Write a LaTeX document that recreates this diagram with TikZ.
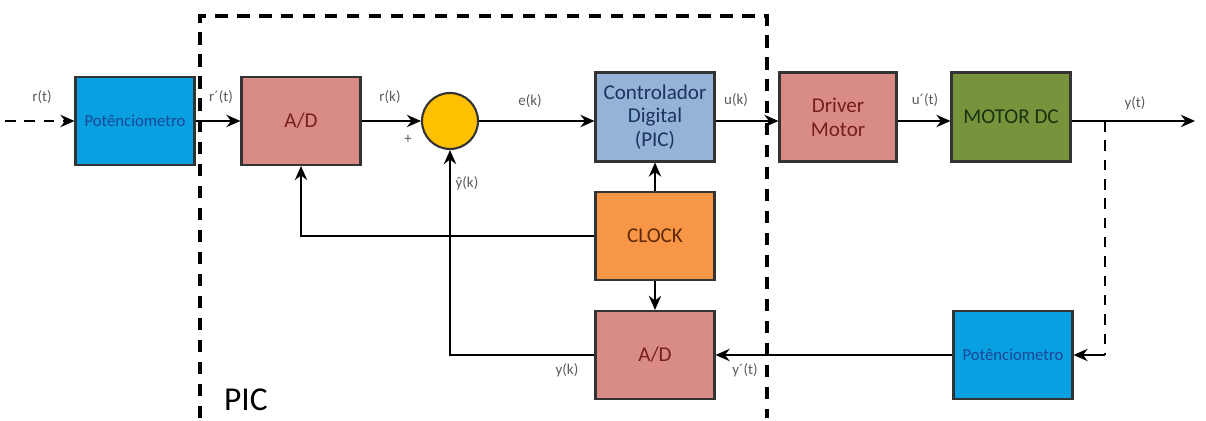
\documentclass[tikz,border=0pt]{standalone}
\usepackage{fontspec}
\setmainfont{Carlito}
\usetikzlibrary{arrows.meta,calc}
\definecolor{potblue}{RGB}{8,160,225}
\definecolor{adpink}{RGB}{217,140,134}
\definecolor{ctrlblue}{RGB}{149,179,215}
\definecolor{motorgreen}{RGB}{119,147,60}
\definecolor{clockorange}{RGB}{247,150,70}
\definecolor{sumyellow}{RGB}{255,192,0}
\definecolor{labelgray}{RGB}{90,90,90}
\definecolor{textblue}{RGB}{25,70,150}
\definecolor{textred}{RGB}{120,30,30}
\definecolor{textnavy}{RGB}{30,50,95}
\definecolor{textgreen}{RGB}{25,50,15}
\definecolor{textbrown}{RGB}{95,40,5}

\begin{document}
\begin{tikzpicture}[x=0.02cm, y=-0.02cm,
    block/.style={draw=black!80, line width=1.2pt, minimum width=2.38cm,
      minimum height=1.76cm, align=center, font=\fontsize{12}{13.5}\selectfont},
    potbox/.style={block, fill=potblue, text=textblue, font=\fontsize{9.5}{11}\selectfont},
    adbox/.style={block, fill=adpink, text=textred},
    sig/.style={line width=1.2pt, -{Stealth[length=8pt,width=7pt]}},
    wire/.style={line width=1.2pt},
    lbl/.style={text=labelgray, font=\fontsize{8.5}{10}\selectfont}]
  \useasboundingbox (0,0) rectangle (1206,421);
  % PIC frame
  \draw[line width=2.4pt, dash pattern=on 7pt off 5.5pt] (200,418) -- (200,16) -- (767,16) -- (767,418);
  \node[font=\fontsize{19}{21}\selectfont, anchor=west] (piclbl) at (218,400) {PIC};
  % blocks
  \node[potbox] (pot1) at (135,121) {Potênciometro};
  \node[adbox] (ad1) at (301,121) {A/D};
  \node[circle, draw=black!80, line width=1.2pt, fill=sumyellow, minimum size=1.12cm] (sum) at (450,121) {};
  \node[block, fill=ctrlblue, text=textnavy, minimum height=1.78cm] (ctrl) at (655,117) {Controlador\\Digital\\(PIC)};
  \node[adbox, minimum width=2.34cm, minimum height=1.78cm] (drv) at (838,117) {Driver\\Motor};
  \node[block, fill=motorgreen, text=textgreen, minimum height=1.78cm] (motor) at (1011,117) {MOTOR DC};
  \node[block, fill=clockorange, text=textbrown] (clock) at (655,236) {CLOCK};
  \node[adbox] (ad2) at (655,355) {A/D};
  \node[potbox] (pot2) at (1013,355) {Potênciometro};
  % free ends
  \coordinate (in) at (5,121);
  \coordinate (out) at (1195,121);
  \coordinate (br) at (1105,121);
  \coordinate (brd) at (1105,355);
  % signals
  \draw[sig, dash pattern=on 6pt off 5pt] (in) -- (pot1.west);
  \draw[sig] (pot1.east) -- (ad1.west);
  \draw[sig] (ad1.east) -- (sum.west);
  \draw[sig] (sum.east) -- (sum.east -| ctrl.west);
  \draw[sig] (ctrl.east |- sum.east) -- (drv.west |- sum.east);
  \draw[sig] (drv.east |- sum.east) -- (motor.west |- sum.east);
  \draw[sig] (motor.east |- sum.east) -- (out);
  \draw[wire, dash pattern=on 6pt off 5pt] (br) -- (brd);
  \draw[sig] (brd) -- (pot2.east);
  \draw[sig] (pot2.west) -- (ad2.east);
  \draw[sig] (ad2.west) -- (ad2.west -| sum.south) -- (sum.south);
  \draw[sig] (clock.north) -- (ctrl.south);
  \draw[sig] (clock.south) -- (ad2.north);
  \draw[sig] (clock.west) -- (clock.west -| ad1.south) -- (ad1.south);
  % labels
  \node[lbl] (lrt) at (42,97) {r(t)};
  \node[lbl] (lrpt) at (221,97) {r´(t)};
  \node[lbl] (lrk) at (390,97) {r(k)};
  \node[lbl] (lplus) at (408,139) {+};
  \node[lbl] (lek) at (530,101) {e(k)};
  \node[lbl] (lyhk) at (467,183) {ŷ(k)};
  \node[lbl] (luk) at (736,100) {u(k)};
  \node[lbl] (lupt) at (925,100) {u´(t)};
  \node[lbl] (lyt) at (1135,103) {y(t)};
  \node[lbl] (lyk) at (567,370) {y(k)};
  \node[lbl] (lypt) at (745,370) {y´(t)};
\end{tikzpicture}
\end{document}
